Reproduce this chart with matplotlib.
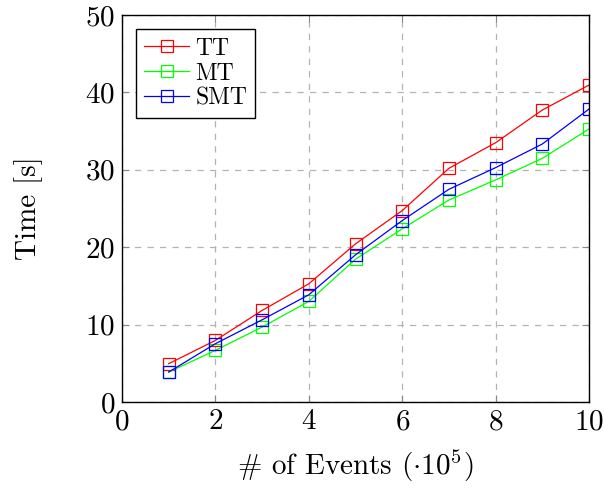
import matplotlib
matplotlib.use("Agg")
import matplotlib.pyplot as plt

x = [1, 2, 3, 4, 5, 6, 7, 8, 9, 10]
tt = [4.95, 7.96, 11.83, 15.27, 20.43, 24.73, 30.19, 33.5, 37.72, 40.95]
mt = [3.87, 6.67, 9.68, 12.99, 18.45, 22.37, 26.1, 28.69, 31.48, 35.27]
smt = [3.87, 7.53, 10.62, 13.85, 19.01, 23.44, 27.48, 30.28, 33.33, 37.85]
xticks = [0, 2, 4, 6, 8, 10]
yticks = [0, 10, 20, 30, 40, 50]

plt.rcParams['font.family'] = 'cmr10'
plt.rcParams['mathtext.fontset'] = 'cm'
plt.rcParams['axes.formatter.use_mathtext'] = True

fig = plt.figure(figsize=(6.04, 4.92), dpi=100)
ax = fig.add_axes([122/604, 1-402/492, (589-122)/604, (402-15)/492])

for ys, c, lab in [(tt, 'red', 'TT'), (mt, '#00ff00', 'MT'), (smt, 'blue', 'SMT')]:
    ax.plot(x, ys, color=c, lw=0.9, marker='s', markersize=9,
            markerfacecolor='none', markeredgecolor=c, markeredgewidth=0.9,
            label=lab)

ax.set_xlim(0, 10)
ax.set_ylim(0, 50)
ax.set_xticks(xticks)
ax.set_yticks(yticks)
ax.grid(True, color='#b3b3b3', linestyle=(0, (5, 5)), linewidth=0.9)
ax.tick_params(direction='in', top=True, right=True, labelsize=21, length=5,
               color='#888888', pad=5)
for s in ax.spines.values():
    s.set_linewidth(1.0)
ax.set_xlabel(r'# of Events $(\cdot 10^5)$', fontsize=21, labelpad=9)
ax.set_ylabel('Time [s]', fontsize=21, labelpad=30)

leg = ax.legend(loc='upper left', fontsize=17, fancybox=False, framealpha=1,
                edgecolor='black', borderaxespad=0.6, handlelength=1.9,
                labelspacing=0.12, borderpad=0.35, handletextpad=0.25)
leg.get_frame().set_linewidth(1.0)

fig.savefig('out.png', dpi=100)
